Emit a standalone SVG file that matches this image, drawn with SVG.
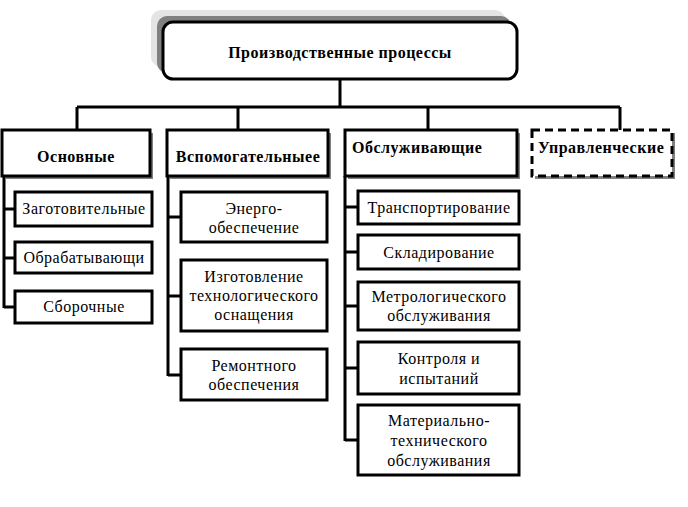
<svg xmlns="http://www.w3.org/2000/svg" width="688" height="507" viewBox="0 0 688 507">
<style>
text{font-family:"Liberation Serif","Times New Roman",serif;font-size:16px;letter-spacing:0.5px;fill:#000;text-anchor:middle}
.b{font-weight:bold}
.l{text-anchor:start}
.box{fill:#fff;stroke:#000;stroke-width:3}
.sh{fill:#808080}
.con{fill:none;stroke:#000;stroke-width:3}
</style>
<rect width="688" height="507" fill="#fff"/>
<g id="root">
<rect x="151" y="10" width="354" height="57" rx="10" fill="#e4e4e4"/>
<rect x="157" y="16" width="354" height="57" rx="10" fill="#808080"/>
<rect class="box" x="163" y="22" width="354" height="57" rx="10"/>
<text class="b" x="340" y="58">Производственные процессы</text>
</g>
<g id="connectors">
<path class="con" d="M340,79V107M77,107H620M77,107V130M238,107V130M428,107V130M620,107V130"/>
<path class="con" d="M4,176V308M4,209H15M4,258H15M4,307H15"/>
<path class="con" d="M168,176V376M168,217H181M168,296H181M168,375H181"/>
<path class="con" d="M345,176V441M345,207H358M345,252H358M345,306H358M345,368H358M345,440H358"/>
</g>
<g id="osnovnye">
<rect class="sh" x="5" y="133" width="148" height="46"/>
<rect class="box" x="2" y="130" width="148" height="46"/>
<text class="b" x="76" y="162">Основные</text>
</g>
<g id="vspomogatelnye">
<rect class="sh" x="170" y="133" width="161" height="46"/>
<rect class="box" x="167" y="130" width="161" height="46"/>
<text class="b" x="248" y="162">Вспомогательныее</text>
</g>
<g id="obsluzhivayushchie">
<rect class="sh" x="348" y="133" width="172" height="46"/>
<rect class="box" x="345" y="130" width="172" height="46"/>
<text class="b l" x="352" y="153">Обслуживающие</text>
</g>
<g id="upravlencheskie">
<rect class="sh" x="535" y="133" width="140" height="46"/>
<rect x="532" y="130" width="140" height="46" fill="#fff" stroke="#000" stroke-width="3" stroke-dasharray="8,5"/>
<text class="b l" x="538" y="153">Управленческие</text>
</g>
<g id="zagotovitelnye">
<rect class="box" x="15" y="192" width="137" height="34"/>
<text x="84" y="214">Заготовительные</text>
</g>
<g id="obrabatyvayushchi">
<rect class="box" x="15" y="242" width="137" height="31"/>
<text x="84" y="263">Обрабатывающи</text>
</g>
<g id="sborochnye">
<rect class="box" x="15" y="291" width="137" height="32"/>
<text x="84" y="312">Сборочные</text>
</g>
<g id="energo">
<rect class="box" x="181" y="192" width="146" height="50"/>
<text x="254" y="214">Энерго-</text>
<text x="254" y="233">обеспечение</text>
</g>
<g id="izgotovlenie">
<rect class="box" x="181" y="260" width="146" height="71"/>
<text x="254" y="282">Изготовление</text>
<text x="254" y="301">технологического</text>
<text x="254" y="320">оснащения</text>
</g>
<g id="remontnogo">
<rect class="box" x="181" y="349" width="146" height="51"/>
<text x="254" y="371">Ремонтного</text>
<text x="254" y="390">обеспечения</text>
</g>
<g id="transport">
<rect class="box" x="358" y="191" width="161" height="33"/>
<text x="439" y="213">Транспортирование</text>
</g>
<g id="sklad">
<rect class="box" x="358" y="235" width="161" height="34"/>
<text x="439" y="258">Складирование</text>
</g>
<g id="metrolog">
<rect class="box" x="358" y="282" width="161" height="48"/>
<text x="439" y="302">Метрологического</text>
<text x="439" y="321">обслуживания</text>
</g>
<g id="kontrol">
<rect class="box" x="358" y="342" width="161" height="52"/>
<text x="439" y="364">Контроля и</text>
<text x="439" y="384">испытаний</text>
</g>
<g id="material">
<rect class="box" x="358" y="405" width="161" height="70"/>
<text x="439" y="426">Материально-</text>
<text x="439" y="446">технического</text>
<text x="439" y="466">обслуживания</text>
</g>
</svg>
